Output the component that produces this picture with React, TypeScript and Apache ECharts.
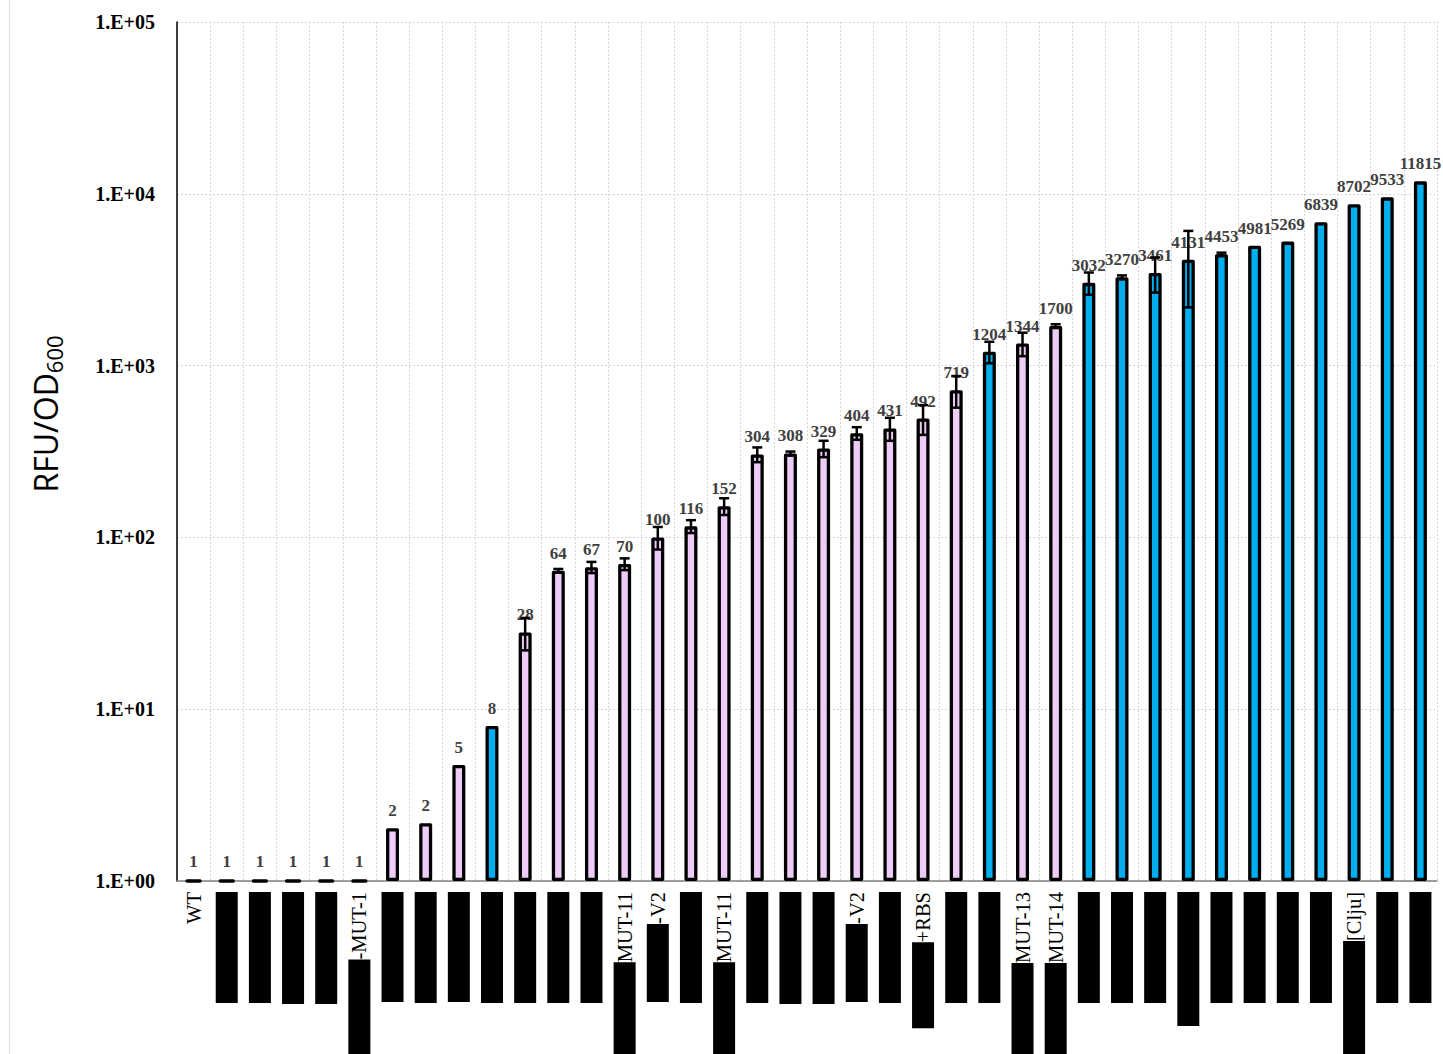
import React, { useEffect, useRef } from "react";
import * as echarts from "echarts";

// Visible (unredacted) part of each category label
const categories = [
  "WT", "", "", "", "", "-MUT-1", "", "", "", "", "", "", "", "MUT-11", "-V2", "", "MUT-11", "", "", "",
  "-V2", "", "+RBS", "", "", "MUT-13", "MUT-14", "", "", "", "", "", "", "", "", "[Clju]", "", "",
];
// Length of the black redaction block that covers the rest of each label
const redactLengths = [
  0, 111, 111, 112, 112, 120, 110, 111, 110, 111, 111, 111, 111, 120, 78, 111, 120, 111, 112, 112,
  78, 111, 86, 111, 111, 120, 120, 111, 111, 111, 134, 111, 111, 111, 111, 120, 111, 111,
];
// RFU/OD600 values
const values = [
  1, 1, 1, 1, 1, 1, 2.03, 2.17, 4.73, 7.98, 28, 64, 67, 70, 100, 116, 152, 304, 308, 329,
  404, 431, 492, 719, 1204, 1344, 1700, 3032, 3270, 3461, 4131, 4453, 4981, 5269, 6839, 8702, 9533, 11815,
];
// Error bar half-widths
const errors = [
  0, 0, 0, 0, 0, 0, 0, 0, 0, 0, 6, 1.5, 5, 5.5, 15, 10, 17, 30, 8, 36,
  34, 66, 97, 150, 173, 210, 40, 450, 80, 800, 1950, 90, 0, 0, 0, 0, 0, 0,
];
// Indices of bars drawn in blue
const blueBars = [9, 24, 27, 28, 29, 30, 31, 32, 33, 34, 35, 36, 37];

const PINK = "#EDCDF8";
const BLUE = "#00AEEF";

export default function App() {
  const ref = useRef<HTMLDivElement>(null);

  useEffect(() => {
    if (!ref.current) return;
    const chart = echarts.init(ref.current, undefined, { renderer: "svg" });

    const rich: Record<string, any> = {
      t: { fontFamily: "Liberation Serif", fontSize: 20.5, color: "#000", height: 22 },
    };
    redactLengths.forEach((len) => {
      if (len > 0) rich["r" + len] = { width: len, height: 22, backgroundColor: "#000", fontSize: 20 };
    });

    const errData = errors.flatMap((e, i) => (e > 0 ? [[i, values[i] - e, values[i] + e]] : []));

    chart.setOption({
      animation: false,
      grid: { left: 177, right: 6, top: 22, bottom: 173, outerBoundsMode: "none", containLabel: false },
      xAxis: {
        type: "category",
        data: categories,
        boundaryGap: true,
        axisLine: { show: true, lineStyle: { color: "#808080", width: 1.5 } },
        axisTick: { show: false },
        splitLine: { show: true, lineStyle: { color: "#d6d6d6", type: [2, 2], width: 1 } },
        axisLabel: {
          interval: 0,
          rotate: 90,
          margin: 11,
          hideOverlap: false,
          rich,
          formatter: (val: string, idx: number) => {
            const len = redactLengths[idx];
            const box = len > 0 ? `{r${len}| }` : "";
            const txt = val ? `{t|${val}}` : "";
            return box + txt;
          },
        },
      },
      yAxis: {
        type: "log",
        logBase: 10,
        min: 1,
        max: 100000,
        axisLine: { show: true, lineStyle: { color: "#000", width: 1.5 } },
        axisTick: { show: false },
        splitLine: { show: true, lineStyle: { color: "#d6d6d6", type: [2, 2], width: 1 } },
        axisLabel: {
          margin: 22,
          fontFamily: "Liberation Serif",
          fontWeight: "bold",
          fontSize: 20,
          color: "#000",
          formatter: (v: number) => "1.E+" + String(Math.round(Math.log10(v))).padStart(2, "0"),
        },
      },
      series: [
        {
          type: "bar",
          data: values,
          barWidth: 13,
          itemStyle: {
            color: (p: any) => (blueBars.includes(p.dataIndex) ? BLUE : PINK),
            borderColor: "#000",
            borderWidth: 3.3,
            borderJoin: "round",
          },
          label: {
            show: true,
            position: "top",
            distance: 9,
            fontFamily: "Liberation Serif",
            fontWeight: "bold",
            fontSize: 17,
            color: "#404040",
            formatter: (p: any) => String(Math.round(p.value)),
          },
          z: 2,
        },
        {
          type: "custom",
          data: errData,
          encode: { x: 0, y: [1, 2] },
          z: 3,
          renderItem: (params: any, api: any) => {
            const x = api.value(0);
            const hi = api.coord([x, api.value(2)]);
            const lo = api.coord([x, api.value(1)]);
            const hw = 5;
            const st = { stroke: "#000", lineWidth: 2.5 };
            return {
              type: "group",
              children: [
                { type: "line", shape: { x1: hi[0], y1: hi[1], x2: lo[0], y2: lo[1] }, style: st },
                { type: "line", shape: { x1: hi[0] - hw, y1: hi[1], x2: hi[0] + hw, y2: hi[1] }, style: st },
                { type: "line", shape: { x1: lo[0] - hw, y1: lo[1], x2: lo[0] + hw, y2: lo[1] }, style: st },
              ],
            };
          },
        },
      ],
      graphic: [
        {
          type: "line",
          shape: { x1: 9.5, y1: 0, x2: 9.5, y2: 1054 },
          style: { stroke: "#dcdcdc", lineWidth: 1 },
        },
        {
          type: "text",
          x: 45,
          y: 414,
          rotation: Math.PI / 2,
          style: {
            text: "{a|RFU/OD}{b|600}",
            align: "center",
            verticalAlign: "middle",
            rich: {
              a: { fontFamily: "Open Sans", fontSize: 32, lineHeight: 40, color: "#111" },
              b: {
                fontFamily: "Open Sans",
                fontSize: 22,
                lineHeight: 12,
                verticalAlign: "bottom",
                color: "#111",
              },
            },
          },
        },
      ],
    });

    return () => chart.dispose();
  }, []);

  return (
    <div
      ref={ref}
      style={{ position: "absolute", left: 0, top: 0, width: 1443, height: 1054 }}
    />
  );
}
